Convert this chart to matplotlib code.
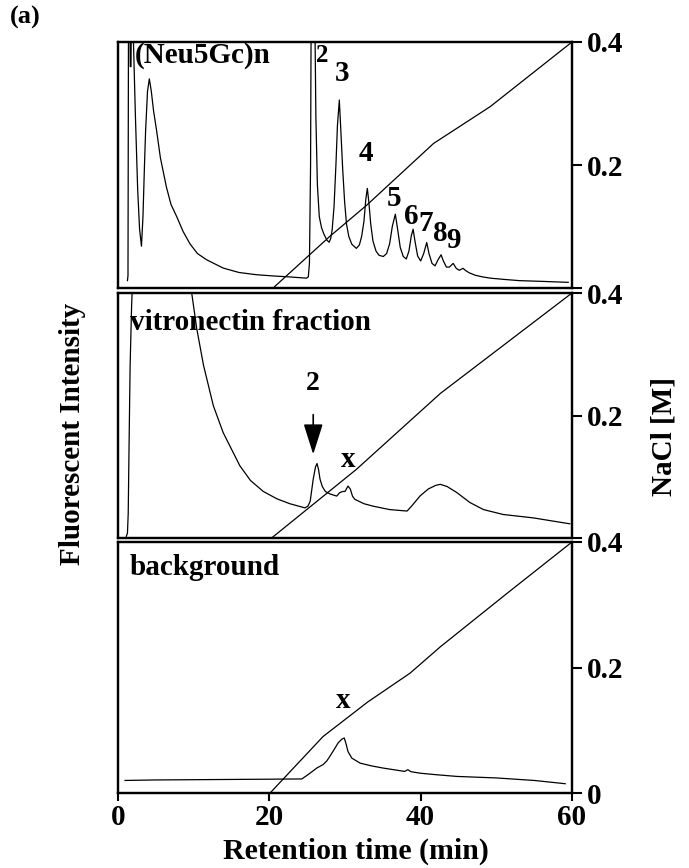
import numpy as np
import matplotlib
matplotlib.use('Agg')
import matplotlib.pyplot as plt

plt.rcParams['font.family'] = 'Liberation Serif'
plt.rcParams['font.weight'] = 'bold'

# (Neu5Gc)n standard, retention time (min) vs fluorescence (fraction of panel)
t_std = [1.25, 1.32, 1.4, 1.55, 1.62, 1.72, 1.8, 1.95, 2.0, 2.3, 2.6, 2.85, 3.1, 3.3, 3.5, 3.65,
         3.9, 4.14, 4.4, 4.7, 5.1, 5.6, 6.4, 7.0, 7.76, 8.6, 9.5, 10.5, 11.7, 13.9, 16.0, 18.3,
         20.5, 22.7, 24.9, 25.15, 25.3, 25.45, 25.55, 25.95, 26.15, 26.35, 26.6, 26.9, 27.2,
         27.6, 27.9, 28.1, 28.3, 28.55, 28.8, 29.0, 29.25, 29.45, 29.7, 29.95, 30.2, 30.5, 30.9,
         31.5, 31.9, 32.2, 32.5, 32.75, 32.95, 33.15, 33.4, 33.7, 34.1, 34.5, 35.06, 35.5, 35.9,
         36.25, 36.65, 36.95, 37.3, 37.7, 38.1, 38.45, 38.75, 39.0, 39.25, 39.6, 40.0, 40.4,
         40.8, 41.1, 41.5, 41.9, 42.3, 42.7, 43.0, 43.4, 43.8, 44.3, 44.7, 45.1, 45.6, 45.9,
         46.4, 47.2, 48.2, 49.2, 51.0, 53.0, 56.0, 59.5]
f_std = [0.03, 0.05, 1.3, 1.3, 0.9, 0.9, 1.3, 1.3, 1.05, 0.7, 0.4, 0.24, 0.17, 0.29, 0.5, 0.64,
         0.8, 0.85, 0.8, 0.72, 0.64, 0.53, 0.41, 0.34, 0.29, 0.23, 0.18, 0.14, 0.115, 0.081, 0.063, 0.054,
         0.049, 0.045, 0.04, 0.045, 0.1, 0.5, 1.3, 1.3, 0.7, 0.42, 0.29, 0.245, 0.22,
         0.195, 0.186, 0.2, 0.236, 0.33, 0.5, 0.66, 0.764, 0.64, 0.48, 0.35, 0.26, 0.21, 0.178,
         0.161, 0.175, 0.21, 0.27, 0.36, 0.405, 0.35, 0.26, 0.19, 0.15, 0.133, 0.128, 0.14, 0.18,
         0.25, 0.30, 0.24, 0.165, 0.128, 0.118, 0.15, 0.21, 0.239, 0.19, 0.13, 0.11, 0.14,
         0.185, 0.14, 0.1, 0.09, 0.115, 0.135, 0.11, 0.085, 0.085, 0.1, 0.08, 0.072, 0.08, 0.072,
         0.062, 0.052, 0.045, 0.04, 0.035, 0.03, 0.027, 0.023]

# vitronectin fraction
t_vn = [1.1, 1.25, 1.35, 1.45, 1.6, 1.8, 2.0, 9.4, 9.74, 10.4, 11.3, 12.6, 13.9, 16.1, 17.5,
        19.2, 21.0, 22.7, 24.7, 25.1, 25.4, 25.8, 26.1, 26.3, 26.5, 26.7, 27.0, 27.4, 28.0,
        28.9, 29.3, 29.7, 30.0, 30.4, 30.7, 31.0, 31.3, 32.5, 33.7, 35.9, 38.2, 38.8, 39.9,
        41.0, 42.0, 42.6, 43.5, 44.8, 46.5, 48.3, 50.9, 54.9, 59.7]
f_vn = [0.007, 0.02, 0.1, 0.35, 0.7, 0.95, 1.1, 1.1, 1.0, 0.856, 0.705, 0.54, 0.43, 0.295, 0.235,
        0.19, 0.16, 0.14, 0.123, 0.13, 0.15, 0.24, 0.29, 0.304, 0.28, 0.24, 0.21, 0.19, 0.18,
        0.171, 0.185, 0.19, 0.19, 0.212, 0.2, 0.17, 0.158, 0.14, 0.13, 0.116, 0.11, 0.13, 0.171,
        0.2, 0.215, 0.219, 0.21, 0.185, 0.145, 0.116, 0.096, 0.082, 0.058]

# background
t_bg = [0.93, 5, 10, 15, 20, 24.3, 25.2, 26.3, 27.1, 27.6, 28.0, 28.6, 29.1, 29.6, 29.9, 30.1,
        30.4, 30.9, 32.0, 33.5, 35.1, 37.9, 38.3, 38.7, 39.9, 42.0, 44.8, 50.0, 55.0, 59.1]
f_bg = [0.05, 0.052, 0.053, 0.054, 0.055, 0.056, 0.075, 0.1, 0.113, 0.128, 0.146, 0.175, 0.2, 0.215,
        0.219, 0.2, 0.165, 0.139, 0.119, 0.108, 0.099, 0.086, 0.093, 0.085, 0.079, 0.073, 0.066,
        0.06, 0.05, 0.037]

# NaCl gradient [M]
g_std_t = [20.5, 28.0, 32.9, 41.7, 49.2, 60.0]
g_std_c = [0.0, 0.084, 0.135, 0.235, 0.295, 0.4]
g_vn_t = [20.3, 31.5, 42.6, 60.0]
g_vn_c = [0.0, 0.112, 0.236, 0.4]
g_bg_t = [20.1, 27.1, 33.0, 38.6, 42.6, 51.4, 60.0]
g_bg_c = [0.0, 0.09, 0.145, 0.191, 0.233, 0.318, 0.4]

peak_n = ['2', '3', '4', '5', '6', '7', '8', '9']
peak_t = [27.0, 29.6, 32.8, 36.5, 38.8, 40.7, 42.6, 44.3]
peak_f = [0.947, 0.873, 0.547, 0.365, 0.29, 0.264, 0.22, 0.195]

fig = plt.figure(figsize=(6.89, 8.68), dpi=100)
L, W = 118/689, 454/689
boxes = [(1-288/868, 246/868), (1-538/868, 245/868), (1-793/868, 251/868)]
panels = [(t_std, f_std, g_std_t, g_std_c, '(Neu5Gc)n'),
          (t_vn, f_vn, g_vn_t, g_vn_c, 'vitronectin fraction'),
          (t_bg, f_bg, g_bg_t, g_bg_c, 'background')]
name_pos = [(2.25, 0.947), (1.6, 0.88), (1.6, 0.9)]

axes = []
for i, ((b, h), (t, f, gt, gc, name)) in enumerate(zip(boxes, panels)):
    ax = fig.add_axes([L, b, W, h])
    ax.plot(t, f, color='black', lw=0.9)
    ax.set_xlim(0, 60)
    ax.set_ylim(0, 1)
    ax.set_yticks([])
    for s in ax.spines.values():
        s.set_linewidth(1.6)
    ax2 = ax.twinx()
    ax2.plot(gt, gc, color='black', lw=0.9)
    ax2.set_ylim(0, 0.4)
    ax2.set_yticks([0, 0.2, 0.4])
    if i < 2:
        ax2.set_yticklabels(['', '0.2', '0.4'])
        ax.set_xticks([])
    else:
        ax2.set_yticklabels(['0', '0.2', '0.4'])
        ax.set_xticks([0, 20, 40, 60])
        ax.tick_params(axis='x', direction='out', length=6, width=1.5, labelsize=21, pad=2)
    ax2.tick_params(axis='y', direction='out', length=7, width=1.5, labelsize=21, pad=4)
    for s in ax2.spines.values():
        s.set_linewidth(1.6)
    ax.text(name_pos[i][0], name_pos[i][1], name, fontsize=21, va='center', ha='left')
    axes.append(ax)

# peak numbers on standard
for n, x, y in zip(peak_n, peak_t, peak_f):
    axes[0].text(x, y, n, fontsize=18 if n == '2' else 21, ha='center', va='center')

# vitronectin annotations
axes[1].annotate('', xy=(25.8, 0.33), xytext=(25.8, 0.515),
                 arrowprops=dict(arrowstyle='-|>,head_width=0.6,head_length=1.9', color='black', lw=1.2))
axes[1].text(25.8, 0.63, '2', fontsize=20, ha='center', va='center')
axes[1].text(30.4, 0.32, 'x', fontsize=21, ha='center', va='center')
axes[2].text(29.8, 0.37, 'x', fontsize=21, ha='center', va='center')

fig.text(10/689, 1-17/868, '(a)', fontsize=19, va='center', ha='left')
fig.text(73/689, 1-434/868, 'Fluorescent Intensity', rotation=90, fontsize=21, va='center', ha='center')
fig.text(664/689, 1-436/868, 'NaCl [M]', rotation=90, fontsize=21, va='center', ha='center')
fig.text(356/689, 1-851/868, 'Retention time (min)', fontsize=21.5, va='center', ha='center')

fig.savefig('out.png', dpi=100)
